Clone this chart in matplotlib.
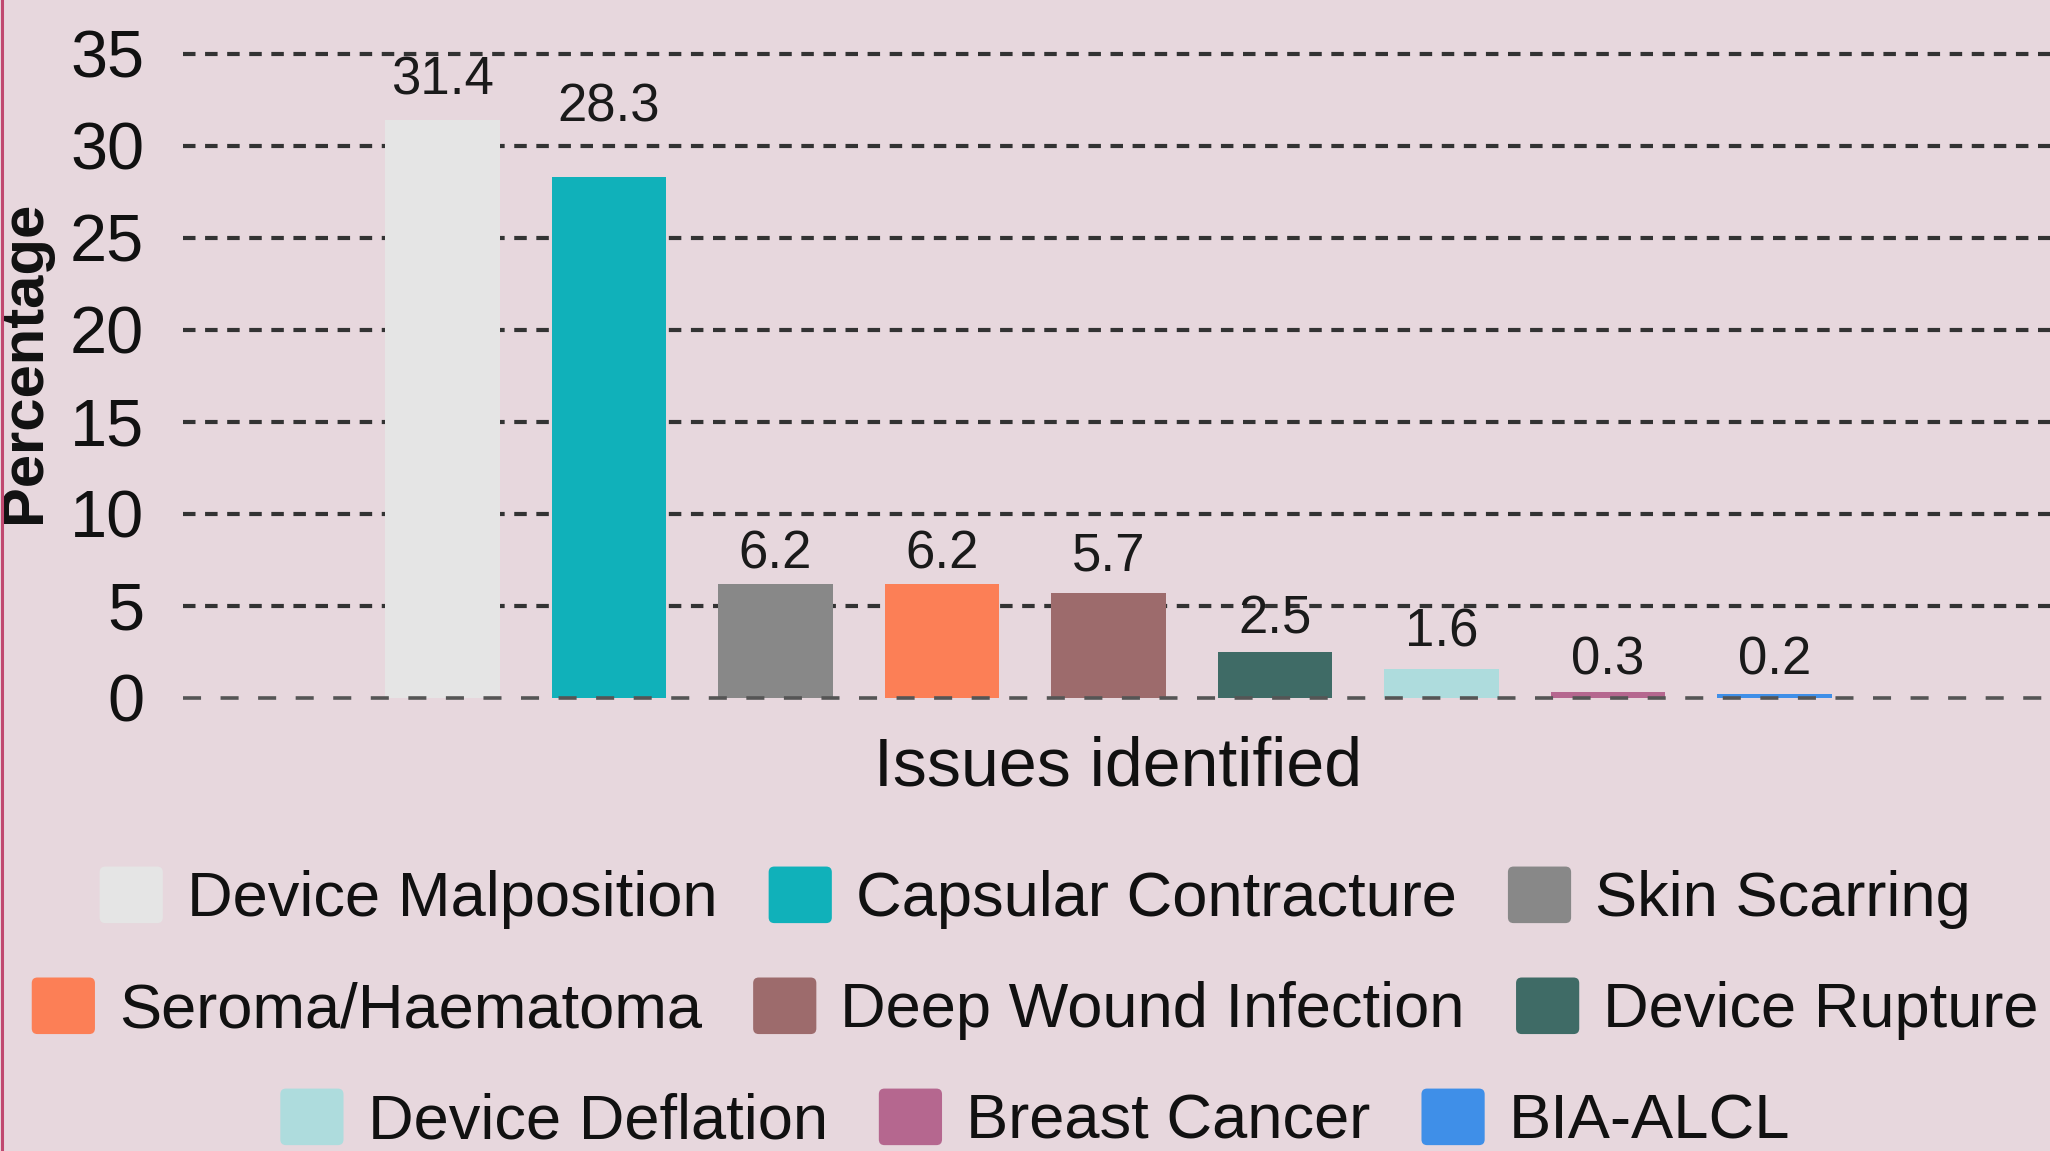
import matplotlib
matplotlib.use("Agg")
import matplotlib.pyplot as plt
from matplotlib.patches import Patch, FancyBboxPatch
from matplotlib.legend_handler import HandlerBase
from matplotlib.lines import Line2D

# ---------------- data ----------------
categories = ["Device Malposition", "Capsular Contracture", "Skin Scarring",
              "Seroma/Haematoma", "Deep Wound Infection", "Device Rupture",
              "Device Deflation", "Breast Cancer", "BIA-ALCL"]
percentages = [31.4, 28.3, 6.2, 6.2, 5.7, 2.5, 1.6, 0.3, 0.2]
y_ticks = [0, 5, 10, 15, 20, 25, 30, 35]
x_label = "Issues identified"
y_label = "Percentage"

# ---------------- style ----------------
colors = ["#e5e5e5", "#10b1ba", "#888888", "#fc7f56", "#9d6b6c",
          "#3f6b66", "#aedcdd", "#b5678f", "#3f8fe8"]
label_pad_px = [25, 55, 15, 15, 23, 18, 22, 18, 20]
legend_rows = [[0, 1, 2], [3, 4, 5], [6, 7, 8]]
legend_row_y = [0.2198, 0.1234, 0.0269]
BG = "#e7d7dd"
FONT = "Liberation Sans"

W, H, DPI = 2050, 1151, 100
fig = plt.figure(figsize=(W / DPI, H / DPI), dpi=DPI, facecolor=BG)
ax = fig.add_axes([0.08927, 0.37758, 0.91073, 0.59193])
ax.set_facecolor("none")

x = list(range(len(categories)))
bars = ax.bar(x, percentages, width=0.69, color=colors, zorder=2)

ax.set_xlim(-1.5586, 9.6547)
ax.set_ylim(-1, 36)
ax.set_yticks(y_ticks)
ax.set_yticklabels([str(t) for t in y_ticks], fontsize=48, family=FONT, color="#111111")
ax.set_xticks([])
ax.tick_params(axis="y", length=0, pad=28)
for s in ax.spines.values():
    s.set_visible(False)

ax.set_axisbelow(True)
ax.yaxis.grid(True, color="#333333", linewidth=3.0, linestyle=(0, (3.0, 2.3)))
ax.get_ygridlines()[0].set_visible(False)
ax.axhline(0, color="#555555", linewidth=2.6, linestyle=(0, (5.0, 5.4)), zorder=3)

for i, (b, v) in enumerate(zip(bars, percentages)):
    ax.annotate(f"{v:.1f}", xy=(b.get_x() + b.get_width() / 2, v),
                xytext=(0, label_pad_px[i] * 72 / DPI), textcoords="offset points",
                ha="center", va="baseline", fontsize=38, family=FONT, color="#1a1a1a")

ax.set_xlabel(x_label, fontsize=49, family=FONT, color="#111111")
ax.xaxis.set_label_coords(1118 / W, 1 - 786 / H, transform=fig.transFigure)
ax.xaxis.label.set_verticalalignment("baseline")
ax.set_ylabel(y_label, fontsize=43, family=FONT, fontweight="bold", color="#111111")
ax.yaxis.set_label_coords(25 / W, 1 - 362 / H, transform=fig.transFigure)
ax.yaxis.label.set_verticalalignment("center")


class RoundSquare(HandlerBase):
    def create_artists(self, legend, orig_handle, xdescent, ydescent, width,
                       height, fontsize, trans):
        r = 0.1 * min(width, height)
        p = FancyBboxPatch((-xdescent + r, -ydescent + r), width - 2 * r, height - 2 * r,
                           boxstyle=f"round,pad={r}", facecolor=orig_handle.get_facecolor(),
                           edgecolor="none", transform=trans)
        return [p]


for row, yc in zip(legend_rows, legend_row_y):
    handles = [Patch(facecolor=colors[i]) for i in row]
    labels = [categories[i] for i in row]
    fig.legend(handles, labels, loc="center", bbox_to_anchor=(0.505, yc), ncol=3,
               frameon=False, prop={"family": FONT, "size": 45.5},
               labelcolor="#111111", handlelength=1.0, handleheight=1.0,
               handletextpad=0.38, columnspacing=0.81, borderpad=0, borderaxespad=0,
               handler_map={Patch: RoundSquare()})

fig.add_artist(Line2D([0.0008, 0.0008], [0, 1], transform=fig.transFigure,
                      color="#c0486f", linewidth=2.2))

fig.savefig("out.png", dpi=DPI, facecolor=BG)
